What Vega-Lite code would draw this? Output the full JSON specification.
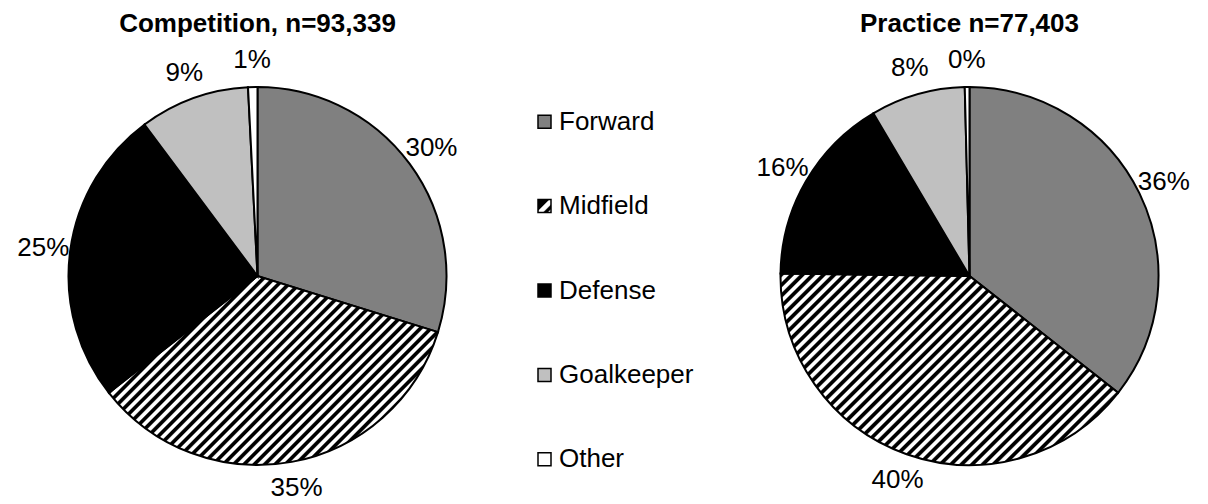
{
  "$schema": "https://vega.github.io/schema/vega-lite/v6.json",
  "width": 1208,
  "height": 456,
  "autosize": {"type": "none"},
  "padding": {"left": 0, "right": 0, "top": 48, "bottom": 0},
  "background": "white",
  "config": {"view": {"stroke": null}, "font": "Liberation Sans"},
  "datasets": {
    "shares": [
      {"panel": "Competition", "position": "Forward", "order": 1, "value": 0.298},
      {"panel": "Competition", "position": "Midfield", "order": 2, "value": 0.346},
      {"panel": "Competition", "position": "Defense", "order": 3, "value": 0.254},
      {"panel": "Competition", "position": "Goalkeeper", "order": 4, "value": 0.094},
      {"panel": "Competition", "position": "Other", "order": 5, "value": 0.008},
      {"panel": "Practice", "position": "Forward", "order": 1, "value": 0.356},
      {"panel": "Practice", "position": "Midfield", "order": 2, "value": 0.396},
      {"panel": "Practice", "position": "Defense", "order": 3, "value": 0.163},
      {"panel": "Practice", "position": "Goalkeeper", "order": 4, "value": 0.081},
      {"panel": "Practice", "position": "Other", "order": 5, "value": 0.004}
    ],
    "titles": [
      {"panel": "Competition", "title": "Competition, n=93,339"},
      {"panel": "Practice", "title": "Practice n=77,403"}
    ]
  },
  "layer": [
    {
      "data": {"name": "shares"},
      "encoding": {
        "x": {"field": "panel", "type": "nominal", "scale": {"type": "point", "domain": ["Competition", "Practice"], "range": [257.5, 969.5], "padding": 0}, "axis": null},
        "theta": {"field": "value", "type": "quantitative", "stack": "normalize"},
        "order": {"field": "order", "type": "quantitative", "sort": "ascending"},
        "fill": {
          "condition": {
            "test": "datum.position === 'Midfield'",
            "value": {"gradient": "linear", "x1": 0, "y1": 0, "x2": 1.185, "y2": 0.676, "stops": [
{"offset":0,"color":"#000"},{"offset":0.007,"color":"#000"},{"offset":0.01,"color":"#fff"},{"offset":0.017,"color":"#fff"},
{"offset":0.02,"color":"#000"},{"offset":0.027,"color":"#000"},{"offset":0.03,"color":"#fff"},{"offset":0.037,"color":"#fff"},
{"offset":0.04,"color":"#000"},{"offset":0.047,"color":"#000"},{"offset":0.05,"color":"#fff"},{"offset":0.057,"color":"#fff"},
{"offset":0.06,"color":"#000"},{"offset":0.067,"color":"#000"},{"offset":0.07,"color":"#fff"},{"offset":0.077,"color":"#fff"},
{"offset":0.08,"color":"#000"},{"offset":0.087,"color":"#000"},{"offset":0.09,"color":"#fff"},{"offset":0.097,"color":"#fff"},
{"offset":0.1,"color":"#000"},{"offset":0.107,"color":"#000"},{"offset":0.11,"color":"#fff"},{"offset":0.117,"color":"#fff"},
{"offset":0.12,"color":"#000"},{"offset":0.127,"color":"#000"},{"offset":0.13,"color":"#fff"},{"offset":0.137,"color":"#fff"},
{"offset":0.14,"color":"#000"},{"offset":0.147,"color":"#000"},{"offset":0.15,"color":"#fff"},{"offset":0.157,"color":"#fff"},
{"offset":0.16,"color":"#000"},{"offset":0.167,"color":"#000"},{"offset":0.17,"color":"#fff"},{"offset":0.177,"color":"#fff"},
{"offset":0.18,"color":"#000"},{"offset":0.187,"color":"#000"},{"offset":0.19,"color":"#fff"},{"offset":0.197,"color":"#fff"},
{"offset":0.2,"color":"#000"},{"offset":0.207,"color":"#000"},{"offset":0.21,"color":"#fff"},{"offset":0.217,"color":"#fff"},
{"offset":0.22,"color":"#000"},{"offset":0.227,"color":"#000"},{"offset":0.23,"color":"#fff"},{"offset":0.237,"color":"#fff"},
{"offset":0.24,"color":"#000"},{"offset":0.247,"color":"#000"},{"offset":0.25,"color":"#fff"},{"offset":0.257,"color":"#fff"},
{"offset":0.26,"color":"#000"},{"offset":0.267,"color":"#000"},{"offset":0.27,"color":"#fff"},{"offset":0.277,"color":"#fff"},
{"offset":0.28,"color":"#000"},{"offset":0.287,"color":"#000"},{"offset":0.29,"color":"#fff"},{"offset":0.297,"color":"#fff"},
{"offset":0.3,"color":"#000"},{"offset":0.307,"color":"#000"},{"offset":0.31,"color":"#fff"},{"offset":0.317,"color":"#fff"},
{"offset":0.32,"color":"#000"},{"offset":0.327,"color":"#000"},{"offset":0.33,"color":"#fff"},{"offset":0.337,"color":"#fff"},
{"offset":0.34,"color":"#000"},{"offset":0.347,"color":"#000"},{"offset":0.35,"color":"#fff"},{"offset":0.357,"color":"#fff"},
{"offset":0.36,"color":"#000"},{"offset":0.367,"color":"#000"},{"offset":0.37,"color":"#fff"},{"offset":0.377,"color":"#fff"},
{"offset":0.38,"color":"#000"},{"offset":0.387,"color":"#000"},{"offset":0.39,"color":"#fff"},{"offset":0.397,"color":"#fff"},
{"offset":0.4,"color":"#000"},{"offset":0.407,"color":"#000"},{"offset":0.41,"color":"#fff"},{"offset":0.417,"color":"#fff"},
{"offset":0.42,"color":"#000"},{"offset":0.427,"color":"#000"},{"offset":0.43,"color":"#fff"},{"offset":0.437,"color":"#fff"},
{"offset":0.44,"color":"#000"},{"offset":0.447,"color":"#000"},{"offset":0.45,"color":"#fff"},{"offset":0.457,"color":"#fff"},
{"offset":0.46,"color":"#000"},{"offset":0.467,"color":"#000"},{"offset":0.47,"color":"#fff"},{"offset":0.477,"color":"#fff"},
{"offset":0.48,"color":"#000"},{"offset":0.487,"color":"#000"},{"offset":0.49,"color":"#fff"},{"offset":0.497,"color":"#fff"},
{"offset":0.5,"color":"#000"},{"offset":0.507,"color":"#000"},{"offset":0.51,"color":"#fff"},{"offset":0.517,"color":"#fff"},
{"offset":0.52,"color":"#000"},{"offset":0.527,"color":"#000"},{"offset":0.53,"color":"#fff"},{"offset":0.537,"color":"#fff"},
{"offset":0.54,"color":"#000"},{"offset":0.547,"color":"#000"},{"offset":0.55,"color":"#fff"},{"offset":0.557,"color":"#fff"},
{"offset":0.56,"color":"#000"},{"offset":0.567,"color":"#000"},{"offset":0.57,"color":"#fff"},{"offset":0.577,"color":"#fff"},
{"offset":0.58,"color":"#000"},{"offset":0.587,"color":"#000"},{"offset":0.59,"color":"#fff"},{"offset":0.597,"color":"#fff"},
{"offset":0.6,"color":"#000"},{"offset":0.607,"color":"#000"},{"offset":0.61,"color":"#fff"},{"offset":0.617,"color":"#fff"},
{"offset":0.62,"color":"#000"},{"offset":0.627,"color":"#000"},{"offset":0.63,"color":"#fff"},{"offset":0.637,"color":"#fff"},
{"offset":0.64,"color":"#000"},{"offset":0.647,"color":"#000"},{"offset":0.65,"color":"#fff"},{"offset":0.657,"color":"#fff"},
{"offset":0.66,"color":"#000"},{"offset":0.667,"color":"#000"},{"offset":0.67,"color":"#fff"},{"offset":0.677,"color":"#fff"},
{"offset":0.68,"color":"#000"},{"offset":0.687,"color":"#000"},{"offset":0.69,"color":"#fff"},{"offset":0.697,"color":"#fff"},
{"offset":0.7,"color":"#000"},{"offset":0.707,"color":"#000"},{"offset":0.71,"color":"#fff"},{"offset":0.717,"color":"#fff"},
{"offset":0.72,"color":"#000"},{"offset":0.727,"color":"#000"},{"offset":0.73,"color":"#fff"},{"offset":0.737,"color":"#fff"},
{"offset":0.74,"color":"#000"},{"offset":0.747,"color":"#000"},{"offset":0.75,"color":"#fff"},{"offset":0.757,"color":"#fff"},
{"offset":0.76,"color":"#000"},{"offset":0.767,"color":"#000"},{"offset":0.77,"color":"#fff"},{"offset":0.777,"color":"#fff"},
{"offset":0.78,"color":"#000"},{"offset":0.787,"color":"#000"},{"offset":0.79,"color":"#fff"},{"offset":0.797,"color":"#fff"},
{"offset":0.8,"color":"#000"},{"offset":0.807,"color":"#000"},{"offset":0.81,"color":"#fff"},{"offset":0.817,"color":"#fff"},
{"offset":0.82,"color":"#000"},{"offset":0.827,"color":"#000"},{"offset":0.83,"color":"#fff"},{"offset":0.837,"color":"#fff"},
{"offset":0.84,"color":"#000"},{"offset":0.847,"color":"#000"},{"offset":0.85,"color":"#fff"},{"offset":0.857,"color":"#fff"},
{"offset":0.86,"color":"#000"},{"offset":0.867,"color":"#000"},{"offset":0.87,"color":"#fff"},{"offset":0.877,"color":"#fff"},
{"offset":0.88,"color":"#000"},{"offset":0.887,"color":"#000"},{"offset":0.89,"color":"#fff"},{"offset":0.897,"color":"#fff"},
{"offset":0.9,"color":"#000"},{"offset":0.907,"color":"#000"},{"offset":0.91,"color":"#fff"},{"offset":0.917,"color":"#fff"},
{"offset":0.92,"color":"#000"},{"offset":0.927,"color":"#000"},{"offset":0.93,"color":"#fff"},{"offset":0.937,"color":"#fff"},
{"offset":0.94,"color":"#000"},{"offset":0.947,"color":"#000"},{"offset":0.95,"color":"#fff"},{"offset":0.957,"color":"#fff"},
{"offset":0.96,"color":"#000"},{"offset":0.967,"color":"#000"},{"offset":0.97,"color":"#fff"},{"offset":0.977,"color":"#fff"},
{"offset":0.98,"color":"#000"},{"offset":0.987,"color":"#000"},{"offset":0.99,"color":"#fff"},{"offset":0.997,"color":"#fff"},
{"offset":1,"color":"#000"}
            ]}
          },
          "field": "position",
          "type": "nominal",
          "scale": {"domain": ["Forward", "Midfield", "Defense", "Goalkeeper", "Other"], "range": ["#808080", "#ffffff", "#000000", "#c0c0c0", "#ffffff"]},
          "legend": null
        }
      },
      "layer": [
        {
          "transform": [{"filter": "datum.panel === 'Competition'"}],
          "mark": {"type": "arc", "outerRadius": 189, "stroke": "black", "strokeWidth": 2}
        },
        {
          "transform": [{"filter": "datum.panel === 'Practice'"}],
          "mark": {"type": "arc", "outerRadius": 189, "stroke": "black", "strokeWidth": 2}
        },
        {
          "transform": [{"filter": "datum.panel === 'Competition'"}],
          "mark": {"type": "text", "fontSize": 26, "font": "Liberation Sans", "align": "center", "baseline": "middle"},
          "encoding": {
            "fill": {"value": "black"},
            "radius": {"value": 216},
            "text": {"field": "value", "type": "quantitative", "format": ".0%"}
          }
        },
        {
          "transform": [{"filter": "datum.panel === 'Practice'"}],
          "mark": {"type": "text", "fontSize": 26, "font": "Liberation Sans", "align": "center", "baseline": "middle"},
          "encoding": {
            "fill": {"value": "black"},
            "radius": {"value": 216},
            "text": {"field": "value", "type": "quantitative", "format": ".0%"}
          }
        }
      ]
    },
    {
      "data": {"name": "shares"},
      "transform": [{"filter": "datum.panel === 'Competition'"}],
      "mark": {"type": "square", "size": 169, "filled": true, "opacity": 1, "stroke": "black", "strokeWidth": 1.5, "xOffset": -59.5},
      "encoding": {
        "y": {"field": "position", "type": "nominal", "scale": {"type": "point", "domain": ["Forward", "Midfield", "Defense", "Goalkeeper", "Other"], "range": [73.7, 411.3], "padding": 0}, "axis": null},
        "fill": {
          "condition": {
            "test": "datum.position === 'Midfield'",
            "value": {"gradient": "linear", "x1": 0, "y1": 0, "x2": 1, "y2": 1, "stops": [
              {"offset": 0, "color": "#000"}, {"offset": 0.4, "color": "#000"},
              {"offset": 0.46, "color": "#fff"}, {"offset": 0.66, "color": "#fff"},
              {"offset": 0.72, "color": "#000"}, {"offset": 0.84, "color": "#000"},
              {"offset": 0.9, "color": "#fff"}, {"offset": 1, "color": "#fff"}
            ]}
          },
          "field": "position",
          "type": "nominal",
          "scale": {"domain": ["Forward", "Midfield", "Defense", "Goalkeeper", "Other"], "range": ["#808080", "#ffffff", "#000000", "#c0c0c0", "#ffffff"]},
          "legend": null
        }
      }
    },
    {
      "data": {"name": "shares"},
      "transform": [{"filter": "datum.panel === 'Competition'"}],
      "mark": {"type": "text", "fontSize": 26, "font": "Liberation Sans", "align": "left", "baseline": "middle", "fill": "black", "xOffset": -45},
      "encoding": {
        "y": {"field": "position", "type": "nominal", "scale": {"type": "point", "domain": ["Forward", "Midfield", "Defense", "Goalkeeper", "Other"], "range": [73.7, 411.3], "padding": 0}, "axis": null},
        "text": {"field": "position", "type": "nominal"}
      }
    },
    {
      "data": {"name": "titles"},
      "mark": {"type": "text", "fontSize": 26, "fontWeight": "bold", "font": "Liberation Sans", "align": "center", "baseline": "middle", "fill": "black"},
      "encoding": {
        "x": {"field": "panel", "type": "nominal", "scale": {"type": "point", "domain": ["Competition", "Practice"], "range": [257.5, 969.5], "padding": 0}, "axis": null},
        "theta": {"value": 0},
        "radius": {"value": 252},
        "text": {"field": "title", "type": "nominal"}
      }
    }
  ]
}
